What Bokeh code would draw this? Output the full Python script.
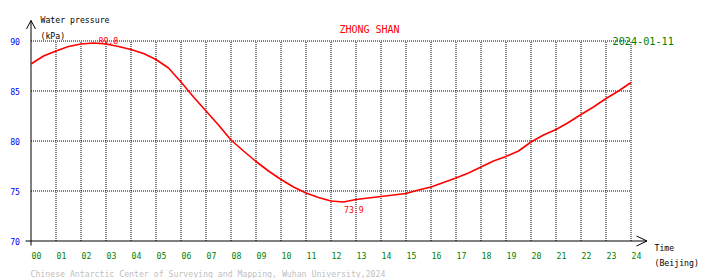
from bokeh.plotting import figure
from bokeh.models import Range1d
from bokeh.core.properties import value
from bokeh.embed import file_html
from bokeh.resources import INLINE

# ---- data ----
station = "ZHONG SHAN"
date_label = "2024-01-11"
hours = [0, 0.5, 1, 1.5, 2, 2.5, 3, 3.5, 4, 4.5, 5, 5.5, 6, 6.5, 7, 7.5, 8, 8.5,
         9, 9.5, 10, 10.5, 11, 11.5, 12, 12.5, 13, 13.5, 14, 14.5, 15, 15.5, 16,
         16.5, 17, 17.5, 18, 18.5, 19, 19.5, 20, 20.5, 21, 21.5, 22, 22.5, 23,
         23.5, 24]
pressure = [87.7, 88.5, 89.0, 89.45, 89.7, 89.8, 89.7, 89.45, 89.15, 88.75, 88.15,
            87.3, 85.9, 84.4, 83.0, 81.6, 80.1, 79.0, 77.95, 77.0, 76.15, 75.4,
            74.8, 74.35, 74.0, 73.9, 74.15, 74.3, 74.45, 74.6, 74.75, 75.1, 75.4,
            75.85, 76.3, 76.8, 77.4, 78.0, 78.45, 79.0, 79.9, 80.6, 81.15, 81.85,
            82.65, 83.4, 84.25, 85.0, 85.85]
x_ticks = list(range(0, 25))
x_tick_labels = ["%02d" % h for h in x_ticks]
y_ticks = [70, 75, 80, 85, 90]
y_tick_labels = [str(v) for v in y_ticks]
y_grid = [75, 80, 85, 90]
x_grid = list(range(1, 25))

# ---- pixel <-> data helpers (layout) ----
PX_H = 25.0     # pixels per hour
PX_K = 10.0     # pixels per kPa
X0 = 30.5       # pixel centre of hour 0
Y70 = 240.5     # pixel centre of 70 kPa
W, H = 710, 278

def hx(px):
    return (px - X0) / PX_H

def vy(py):
    return 70 + (Y70 - py) / PX_K

p = figure(width=W, height=H, x_range=Range1d(hx(0), hx(W)), y_range=Range1d(vy(H), vy(0)),
           output_backend="svg", toolbar_location=None, x_axis_type=None, y_axis_type=None,
           min_border=0, outline_line_color=None, background_fill_color="white",
           border_fill_color="white")
p.grid.visible = False

MONO = value("DejaVu Sans Mono")

# grid (dotted)
p.segment(x0=[0] * len(y_grid), y0=y_grid, x1=[24] * len(y_grid), y1=y_grid,
          line_color="black", line_width=1, line_dash="1 1")
p.segment(x0=x_grid, y0=[70] * len(x_grid), x1=x_grid, y1=[90] * len(x_grid),
          line_color="black", line_width=1, line_dash="1 1")

# axes with arrows
p.segment(x0=[0, hx(25)], y0=[vy(20), 70], x1=[0, hx(646.5)], y1=[vy(245), 70],
          line_color="black", line_width=1)
p.line(x=[hx(26), 0, hx(35)], y=[vy(28.5), vy(20), vy(28.5)], line_color="black", line_width=1)
p.line(x=[hx(636), hx(646.5), hx(636)], y=[vy(235.5), 70, vy(245.5)], line_color="black", line_width=1)

# series
p.line(x=hours, y=pressure, line_color="#ff0000", line_width=1.6)

# max / min labels
imax = max(range(len(pressure)), key=lambda i: pressure[i])
imin = min(range(len(pressure)), key=lambda i: pressure[i])
p.text(x=[hours[imax]], y=[pressure[imax]], text=["%.1f" % pressure[imax]], text_color="#ff0000",
       text_font=MONO, text_font_size=value("8.2px"), text_align="left",
       text_baseline="alphabetic", x_offset=5, y_offset=-2.5)
p.text(x=[hours[imin]], y=[pressure[imin]], text=["%.1f" % pressure[imin]], text_color="#ff0000",
       text_font=MONO, text_font_size=value("8.2px"), text_align="left",
       text_baseline="alphabetic", x_offset=0.5, y_offset=7)

# tick labels
p.text(x=[hx(19.5)] * len(y_ticks), y=y_ticks, text=y_tick_labels, text_color="#0000ff",
       text_font=MONO, text_font_size=value("8.2px"), text_align="right",
       text_baseline="alphabetic", y_offset=0)
p.text(x=x_ticks, y=[vy(255)] * len(x_ticks), text=x_tick_labels, text_color="#008000",
       text_font=MONO, text_font_size=value("8.2px"), text_align="left",
       text_baseline="alphabetic", x_offset=0.5)

# axis titles & headings
def label(px, py, txt, color, size="8.2px", align="left"):
    p.text(x=[hx(px)], y=[vy(py)], text=[txt], text_color=color, text_font=MONO,
           text_font_size=value(size), text_align=align, text_baseline="alphabetic")

label(40, 19, "Water pressure", "black")
label(40, 35.5, "(kPa)", "black")
label(654, 247, "Time", "black")
label(654, 262.5, "(Beijing)", "black")
label(369, 28.5, station, "#ff0000", size="10px", align="center")
label(612, 40.5, date_label, "#008000", size="10.2px")
label(30, 273, "Chinese Antarctic Center of Surveying and Mapping, Wuhan University,2024",
      "#c0c0c0")

open("out.html", "w").write(file_html(p, INLINE))
